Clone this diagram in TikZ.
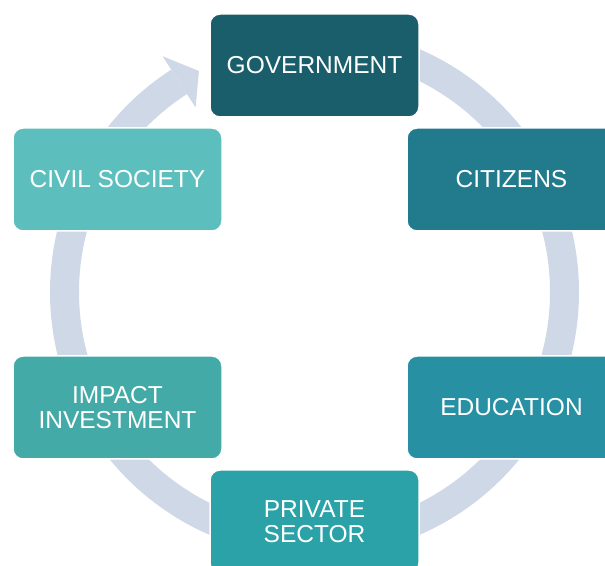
\documentclass[tikz,border=0pt]{standalone}
\usepackage{fontspec}
\setmainfont{Liberation Sans}
\usetikzlibrary{calc}
\definecolor{ringc}{HTML}{CFD8E6}
\definecolor{cgov}{HTML}{1B5E6B}
\definecolor{ccit}{HTML}{227B8D}
\definecolor{cedu}{HTML}{2890A3}
\definecolor{cpriv}{HTML}{2AA2A8}
\definecolor{cimp}{HTML}{44AAA7}
\definecolor{cciv}{HTML}{5DBFBD}
\tikzset{
  stepbox/.style={rounded corners=10pt, draw=white, line width=1.5pt,
    minimum width=209pt, minimum height=103pt, inner sep=0pt,
    text=white, align=center, font=\fontsize{24.5}{25}\selectfont},
  ring/.style={draw=ringc, line width=29pt},
}
\begin{document}
\begin{tikzpicture}[x=1pt,y=1pt]
\useasboundingbox (0,0) rectangle (605,565);
\clip (0,0) rectangle (605,565);
\coordinate (C) at (314.5,273);
% ring
\draw[ring] ($(C)+(90:250)$) arc[start angle=90, end angle=-237.2, radius=250];
\fill[ringc] ($(C)+(122.8:280.5)$) -- ($(C)+(117.6:249.4)$) -- ($(C)+(122.8:219.5)$) -- cycle;
% boxes
\node[stepbox, fill=cgov]  (gov)  at (314.5,499.5) {GOVERNMENT};
\node[stepbox, fill=ccit]  (cit)  at (511.5,385.5) {CITIZENS};
\node[stepbox, fill=cedu]  (edu)  at (511.5,157.5) {EDUCATION};
\node[stepbox, fill=cpriv] (priv) at (314.5,43.5)  {PRIVATE\\SECTOR};
\node[stepbox, fill=cimp]  (imp)  at (117.5,157.5) {IMPACT\\INVESTMENT};
\node[stepbox, fill=cciv]  (civ)  at (117.5,385.5) {CIVIL SOCIETY};
\end{tikzpicture}
\end{document}
